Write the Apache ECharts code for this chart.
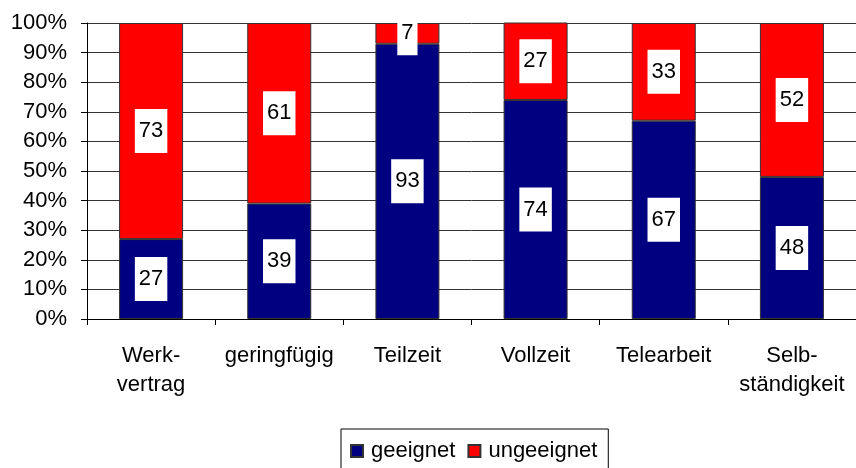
<!DOCTYPE html>
<html>
<head>
<meta charset="utf-8">
<script src="https://cdn.jsdelivr.net/npm/echarts@6/dist/echarts.min.js"></script>
<style>html,body{margin:0;padding:0;background:#fff}#c{width:856px;height:468px}</style>
</head>
<body>
<div id="c"></div>
<script>
const categories = ['Werk-\nvertrag', 'geringfügig', 'Teilzeit', 'Vollzeit', 'Telearbeit', 'Selb-\nständigkeit'];
const geeignet = [27, 39, 93, 74, 67, 48];
const ungeeignet = [73, 61, 7, 27, 33, 52];
const seriesNames = ['geeignet', 'ungeeignet'];

const font = 'Liberation Sans, Arial, sans-serif';
const chart = echarts.init(document.getElementById('c'), null, {renderer: 'canvas'});
const labelCfg = {
  show: true, position: 'inside', color: '#000', fontFamily: font, fontSize: 22,
  lineHeight: 22, backgroundColor: '#fff', padding: [11, 4]
};
chart.setOption({
  animation: false,
  backgroundColor: '#fff',
  grid: {left: 87, top: 23, width: 777.6, height: 296, containLabel: false},
  legend: {
    left: 341, top: 429, itemWidth: 12, itemHeight: 12, itemGap: 12,
    padding: [11, 11, 12, 9], borderColor: '#000', borderWidth: 1,
    icon: 'rect',
    textStyle: {fontFamily: font, fontSize: 22, color: '#000', padding: [0, 0, 0, 3]},
    data: seriesNames
  },
  xAxis: {
    type: 'category', data: categories,
    axisLine: {lineStyle: {color: '#000', width: 1}},
    axisTick: {show: true, length: 6, lineStyle: {color: '#000'}},
    axisLabel: {interval: 0, margin: 22, fontFamily: font, fontSize: 22, lineHeight: 29, color: '#000'}
  },
  yAxis: {
    type: 'value', min: 0, max: 100, interval: 10,
    axisLine: {show: true, lineStyle: {color: '#000'}},
    axisTick: {show: true, length: 6, lineStyle: {color: '#000'}},
    axisLabel: {formatter: '{value}%', margin: 20, fontFamily: font, fontSize: 22, color: '#000'},
    splitLine: {show: true, lineStyle: {color: '#333', width: 1}}
  },
  series: [
    {name: seriesNames[0], type: 'bar', stack: 's', data: geeignet, barWidth: 64, clip: true,
     itemStyle: {color: '#000080', borderColor: '#333', borderWidth: 1}, label: labelCfg},
    {name: seriesNames[1], type: 'bar', stack: 's', data: ungeeignet, barWidth: 64, clip: true,
     itemStyle: {color: '#ff0000', borderColor: '#333', borderWidth: 1}, label: labelCfg}
  ]
});
</script>
</body>
</html>
